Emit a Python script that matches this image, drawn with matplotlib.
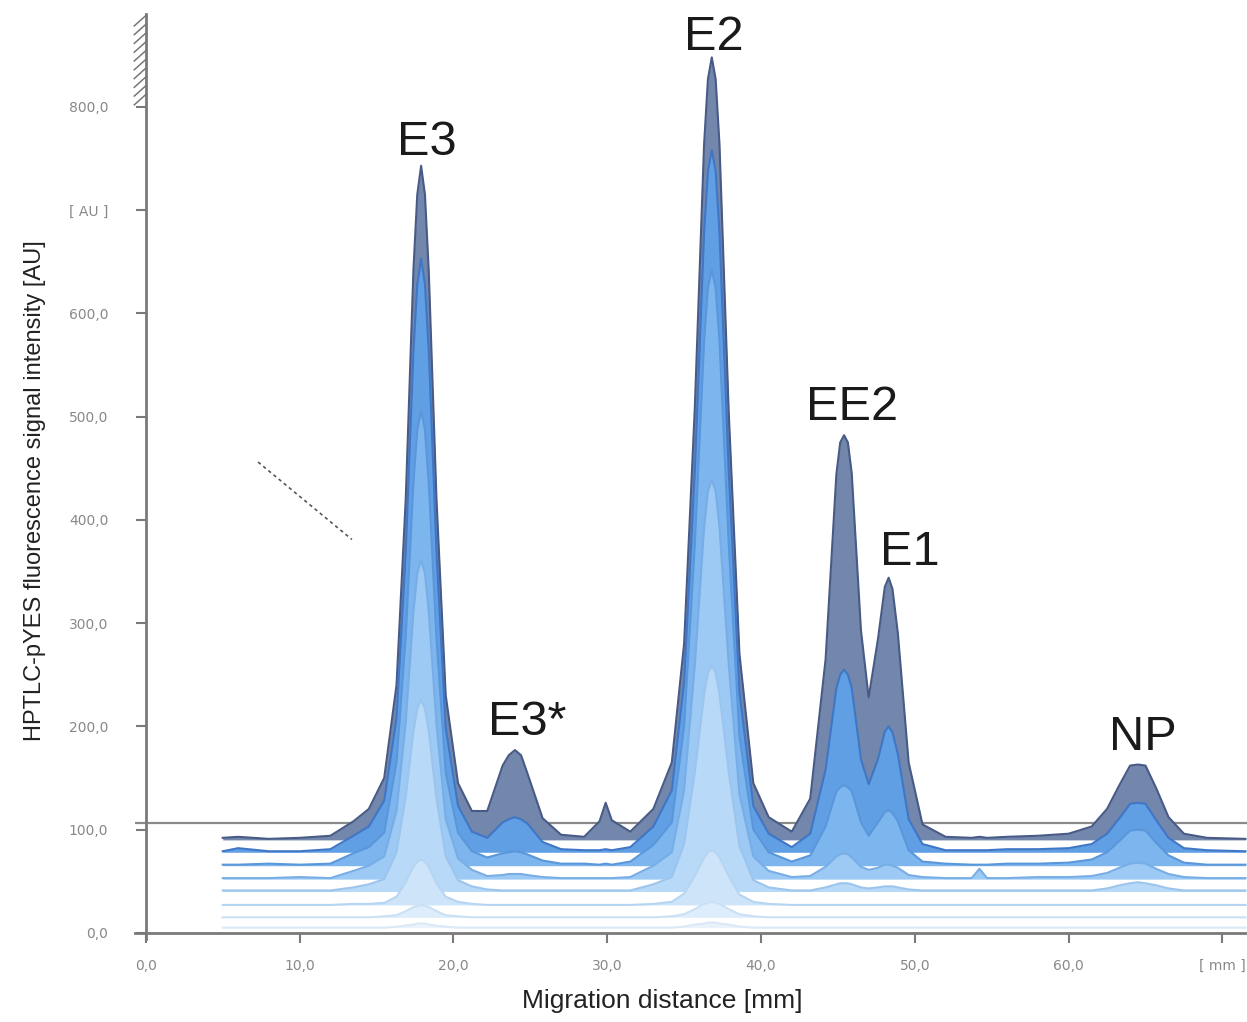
import matplotlib
matplotlib.use("Agg")
import matplotlib.pyplot as plt
import numpy as np

plt.rcParams['font.family'] = ['Liberation Sans', 'DejaVu Sans']

# migration distance grid (mm), shared by all tracks
distance = [5, 6, 8, 10, 12,
            13.5, 14.5, 15.5, 16.3, 16.9,
            17.4, 17.65, 17.9, 18.15, 18.4,
            18.9, 19.5, 20.3, 21.2, 22.2,
            23.2, 23.6, 24.0, 24.4, 24.8,
            25.8, 27.0, 28.5, 29.5, 29.9,
            30.3, 31.5, 33.0, 34.2, 35.0,
            35.7, 36.3, 36.55, 36.8, 37.05,
            37.3, 37.9, 38.6, 39.5, 40.5,
            42.0, 43.2, 44.2, 44.9, 45.15,
            45.4, 45.65, 45.9, 46.5, 47.0,
            47.6, 48.05, 48.3, 48.55, 48.9,
            49.6, 50.5, 52.0, 53.7, 54.2,
            54.7, 56.0, 58.0, 60.0, 61.5,
            62.5, 63.3, 64.0, 64.5, 65.0,
            65.7, 66.5, 67.5, 69.0, 71.5]

# baseline offset of each track (AU), back to front
track_offsets = [90, 78, 65, 52, 40, 27, 15, 5]

# signal above baseline for each track (AU)
track1 = [2, 3, 1, 2, 4,
          18, 30, 60, 150, 330,
          552, 625, 653, 625, 550,
          330, 140, 55, 28, 28,
          72, 82, 87, 82, 65,
          21, 5, 3, 18, 36,
          19, 8, 30, 75, 190,
          420, 674, 737, 758, 737,
          674, 415, 180, 55, 22,
          8, 40, 175, 354, 385,
          392, 385, 355, 203, 138,
          194, 245, 254, 243, 200,
          75, 15, 3, 2, 3,
          2, 3, 4, 6, 13,
          30, 53, 72, 73, 72,
          50, 22, 6, 2, 1]
track2 = [1, 4, 1, 1, 3,
          16, 25, 50, 130, 290,
          485, 550, 575, 550, 485,
          290, 120, 45, 20, 14,
          29, 32, 34, 32, 28,
          10, 3, 2, 2, 3,
          2, 5, 25, 60, 165,
          370, 600, 660, 680, 660,
          600, 370, 155, 45, 18,
          5, 18, 80, 159, 172,
          177, 172, 159, 90, 66,
          90, 117, 122, 116, 95,
          32, 8, 2, 2, 2,
          2, 3, 3, 4, 8,
          18, 33, 47, 48, 47,
          31, 14, 4, 2, 1]
track3 = [1, 1, 2, 1, 2,
          12, 18, 32, 100, 222,
          371, 422, 441, 422, 370,
          220, 90, 32, 14, 8,
          12, 13, 14, 13, 11,
          5, 2, 2, 1, 2,
          1, 4, 20, 42, 135,
          312, 508, 560, 577, 560,
          508, 312, 125, 35, 13,
          4, 10, 38, 72, 76,
          78, 76, 72, 42, 29,
          42, 52, 54, 51, 43,
          15, 4, 2, 1, 1,
          1, 2, 2, 3, 6,
          13, 24, 34, 35, 34,
          22, 10, 3, 1, 1]
track4 = [1, 1, 1, 2, 1,
          8, 13, 22, 66, 152,
          259, 296, 309, 296, 258,
          150, 58, 20, 9, 3,
          4, 5, 5, 5, 4,
          2, 1, 1, 1, 1,
          1, 2, 13, 26, 86,
          208, 341, 376, 387, 376,
          341, 208, 82, 22, 8,
          2, 3, 12, 22, 24,
          25, 24, 21, 12, 9,
          11, 14, 14, 13, 11,
          4, 2, 1, 1, 10,
          1, 1, 2, 2, 3,
          6, 11, 15, 16, 15,
          10, 5, 2, 1, 1]
track5 = [1, 1, 1, 1, 1,
          4, 7, 12, 38, 92,
          155, 177, 186, 177, 155,
          90, 34, 11, 5, 2,
          1, 1, 1, 1, 1,
          1, 1, 1, 1, 1,
          1, 1, 7, 14, 46,
          116, 191, 212, 219, 212,
          191, 116, 44, 11, 4,
          1, 1, 4, 7, 8,
          8, 8, 7, 4, 3,
          4, 5, 5, 5, 4,
          2, 1, 1, 1, 1,
          1, 1, 1, 1, 1,
          3, 6, 8, 9, 8,
          6, 3, 1, 1, 1]
track6 = [0, 0, 0, 0, 0,
          1, 1, 2, 8, 22,
          37, 42, 44, 42, 37,
          21, 8, 3, 1, 0,
          0, 0, 0, 0, 0,
          0, 0, 0, 0, 0,
          0, 0, 1, 3, 11,
          28, 46, 51, 53, 51,
          46, 28, 10, 3, 1,
          0, 0, 0, 0, 0,
          0, 0, 0, 0, 0,
          0, 0, 0, 0, 0,
          0, 0, 0, 0, 0,
          0, 0, 0, 0, 0,
          0, 0, 0, 0, 0,
          0, 0, 0, 0, 0]
track7 = [0, 0, 0, 0, 0,
          0, 0, 1, 2, 6,
          10, 11, 12, 11, 10,
          6, 2, 1, 0, 0,
          0, 0, 0, 0, 0,
          0, 0, 0, 0, 0,
          0, 0, 0, 1, 3,
          8, 13, 14, 15, 14,
          13, 8, 3, 1, 0,
          0, 0, 0, 0, 0,
          0, 0, 0, 0, 0,
          0, 0, 0, 0, 0,
          0, 0, 0, 0, 0,
          0, 0, 0, 0, 0,
          0, 0, 0, 0, 0,
          0, 0, 0, 0, 0]
track8 = [0, 0, 0, 0, 0,
          0, 0, 0, 1, 2,
          3, 4, 4, 4, 3,
          2, 1, 0, 0, 0,
          0, 0, 0, 0, 0,
          0, 0, 0, 0, 0,
          0, 0, 0, 0, 1,
          3, 4, 5, 5, 5,
          4, 3, 1, 0, 0,
          0, 0, 0, 0, 0,
          0, 0, 0, 0, 0,
          0, 0, 0, 0, 0,
          0, 0, 0, 0, 0,
          0, 0, 0, 0, 0,
          0, 0, 0, 0, 0,
          0, 0, 0, 0, 0]
tracks = [track1, track2, track3, track4, track5, track6, track7, track8]

fill_colors = ['#7386ab', '#619fe5', '#7db5ef', '#9dcaf4', '#b8d9f7', '#cde4f9', '#deedfb', '#eaf3fc']
edge_colors = ['#485b86', '#3f77c6', '#5a96da', '#78ade6', '#9cc5ee', '#b6d5f2', '#c9e0f5', '#d9e9f7']

peak_names = ['E3', 'E3*', 'E2', 'EE2', 'E1', 'NP']
label_x = [18.3, 24.8, 36.9, 45.9, 49.7, 64.8]
label_y = [753, 192, 855, 497, 356, 177]

ref_level = 106

y_ticks = [0, 100, 200, 300, 400, 500, 600, 700, 800]
y_labels = ['0,0', '100,0', '200,0', '300,0', '400,0', '500,0', '600,0', '[ AU ]', '800,0']
x_ticks = [0, 10, 20, 30, 40, 50, 60, 70]
x_labels = ['0,0', '10,0', '20,0', '30,0', '40,0', '50,0', '60,0', '[ mm ]']

fig = plt.figure(figsize=(12.47, 10.22), dpi=100)
ax = fig.add_axes([0.1083, 0.0812, 0.8917, 0.9051])
ax.set_xlim(-0.7, 71.6)
ax.set_ylim(-6, 890)

x = np.array(distance)
ax.axhline(ref_level, color='#8a8a8a', lw=1.6, zorder=1)
for i, (off, sig) in enumerate(zip(track_offsets, tracks)):
    y = off + np.array(sig)
    ax.fill_between(x, off, y, color=fill_colors[i], lw=0, zorder=2 + i)
    ax.plot(x, y, color=edge_colors[i], lw=1.5, zorder=2 + i, solid_joinstyle='round')

for name, lx, ly in zip(peak_names, label_x, label_y):
    ax.text(lx, ly, name, fontsize=35, ha='center', va='baseline', color='#1a1a1a', zorder=20)

# stray dotted stroke left of E3
ax.plot([7.3, 13.4], [456, 381], color='#555555', lw=1.2, ls=(0, (2, 2)), zorder=20)

# axis break hatch at the top of the y axis
for yy in np.arange(808, 888, 8.5):
    ax.plot([-0.75, 0], [yy - 6, yy + 4], color='#777777', lw=1.1, clip_on=False, zorder=20)

for s in ['top', 'right']:
    ax.spines[s].set_visible(False)
ax.spines['left'].set_position(('data', 0))
ax.spines['bottom'].set_position(('data', 0))
ax.spines['left'].set_bounds(-6, 890)
ax.spines['bottom'].set_bounds(-0.7, 71.6)
for s in ['left', 'bottom']:
    ax.spines[s].set_color('#7a7a7a')
    ax.spines[s].set_linewidth(2)

ax.set_yticks(y_ticks)
ax.set_yticklabels(y_labels, family='DejaVu Sans')
ax.set_xticks(x_ticks)
ax.set_xticklabels(x_labels, family='DejaVu Sans')
ax.tick_params(axis='y', length=7, width=1.5, color='#7a7a7a', labelsize=10, labelcolor='#888888', pad=20)
ax.tick_params(axis='x', length=7, width=1.5, color='#7a7a7a', labelsize=10, labelcolor='#888888', pad=12)

fig.text(0.028, 0.52, 'HPTLC-pYES fluorescence signal intensity [AU]', rotation=90,
         fontsize=17, ha='center', va='center', color='#222222')
fig.text(0.531, 0.021, 'Migration distance [mm]', fontsize=19, ha='center', va='center', color='#222222')

fig.savefig('out.png', dpi=100)
